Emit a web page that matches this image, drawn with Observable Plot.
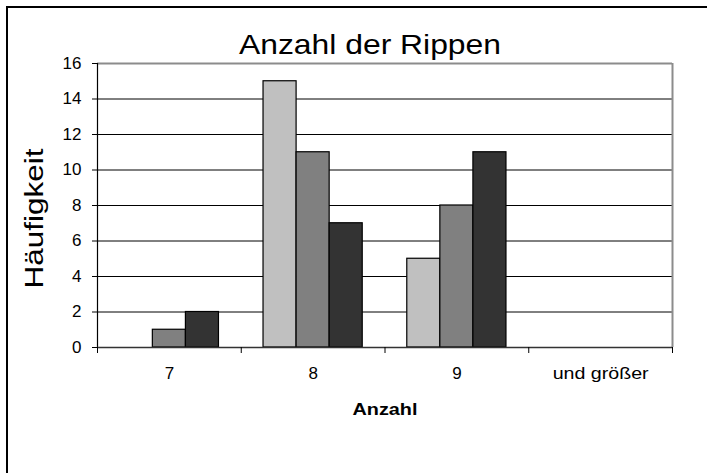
<!DOCTYPE html>
<html><head><meta charset="utf-8">
<script src="https://cdn.jsdelivr.net/npm/d3@7"></script>
<script src="https://cdn.jsdelivr.net/npm/@observablehq/plot@0.6"></script>
<style>
html,body{margin:0;padding:0;background:#fff;overflow:hidden;}
</style></head><body><div id="wrap"></div>
<script>
const categories = ["7", "8", "9", "und größer"];
const seriesA = [0, 15, 5, 0];
const seriesB = [1, 11, 8, 0];
const seriesC = [2, 7, 11, 0];
const seriesColors = ["#c0c0c0", "#808080", "#333333"];
const yTicks = [0, 2, 4, 6, 8, 10, 12, 14, 16];
const title = "Anzahl der Rippen";
const xLabel = "Anzahl";
const yLabel = "Häufigkeit";

const barWidth = 0.23, groupOffset = (1 - 3 * barWidth) / 2;
const data = [];
[seriesA, seriesB, seriesC].forEach((vals, s) => vals.forEach((v, i) => data.push({
  cat: i, s, v, color: seriesColors[s],
  x1: i + groupOffset + s * barWidth,
  x2: i + groupOffset + (s + 1) * barWidth
})));

const chart = Plot.plot({
  width: 707, height: 473,
  marginLeft: 97, marginRight: 35, marginTop: 63, marginBottom: 126,
  style: {fontFamily: "'Liberation Sans', Arial, sans-serif", fontSize: "17px", color: "#000", background: "#fff", overflow: "visible"},
  x: {domain: [0, categories.length], axis: null},
  y: {domain: [0, 16], axis: null},
  color: {type: "identity"},
  marks: [
    Plot.ruleY(yTicks.filter(d => d > 0 && d < 16), {stroke: "#000", strokeWidth: 1}),
    Plot.ruleY([16], {stroke: "#8c8c8c", strokeWidth: 2}),
    Plot.ruleX([categories.length], {stroke: "#8c8c8c", strokeWidth: 2}),
    Plot.rectY(data.filter(d => d.v > 0), {x1: "x1", x2: "x2", y1: 0, y2: "v", fill: "color", stroke: "#000", strokeWidth: 1.2}),
    Plot.ruleX([0], {stroke: "#000", strokeWidth: 1.2}),
    Plot.ruleY([0], {stroke: "#333", strokeWidth: 1.6}),
    Plot.axisY({ticks: yTicks, tickSize: 5, tickPadding: 11, fontSize: 17, label: null}),
    Plot.axisX({ticks: d3.range(categories.length + 1), tickFormat: () => "", tickSize: 6, label: null}),
    Plot.text(categories, {x: (d, i) => i + 0.5, y: 0, dy: 26, fontSize: 17, className: "xcat"}),
    Plot.text([xLabel], {frameAnchor: "bottom", lineAnchor: "middle", dy: 62, fontSize: 17, fontWeight: "bold", className: "xlab"}),
    Plot.text([title], {frameAnchor: "top", lineAnchor: "middle", dx: -15, dy: -18, fontSize: 28, className: "ttl"}),
    Plot.text([yLabel], {frameAnchor: "left", textAnchor: "middle", lineAnchor: "middle", rotate: -90, dx: -63, dy: 13, fontSize: 26, className: "ylab"})
  ]
});
document.getElementById("wrap").append(chart);

// outer chart-area border (top and left edges only, as in the reference)
d3.select(chart).append("path")
  .attr("d", "M7,473V7H707")
  .attr("fill", "none").attr("stroke", "#000").attr("stroke-width", 2);

function stretch(sel, len) {
  d3.select(chart).selectAll(sel).attr("textLength", len).attr("lengthAdjust", "spacingAndGlyphs");
}
stretch("g.ttl text", 262);
stretch("g.ylab text", 140);
stretch("g.xlab text", 65);
d3.select(chart).selectAll("g.xcat text").filter(function() { return this.textContent === categories[3]; })
  .attr("textLength", 96).attr("lengthAdjust", "spacingAndGlyphs");
</script>
</body></html>
